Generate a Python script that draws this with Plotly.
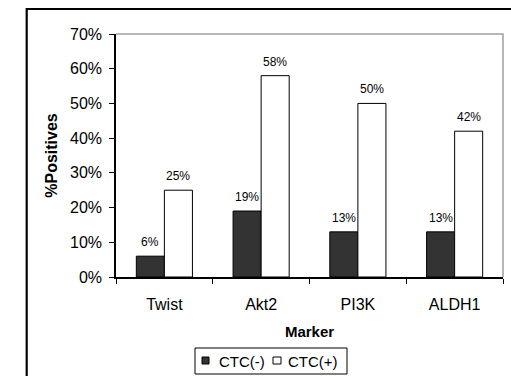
import plotly.graph_objects as go

# Marker positivity by CTC status
markers = ["Twist", "Akt2", "PI3K", "ALDH1"]
series_names = ["CTC(-)", "CTC(+)"]
ctc_neg = [0.06, 0.19, 0.13, 0.13]
ctc_pos = [0.25, 0.58, 0.50, 0.42]
y_ticks = [0, 0.1, 0.2, 0.3, 0.4, 0.5, 0.6, 0.7]

FONT = "Liberation Sans, Arial, sans-serif"
W, H = 511, 376
ML, MR, MT, MB = 116, 8, 34, 99
PW, PH = W - ML - MR, H - MT - MB
BARGAP = 0.42
bar_px = PW / len(markers) * (1 - BARGAP) / 2


def px_x(x):
    return (x - ML) / PW


def px_y(y):
    return (H - MB - y) / PH


colors = ["#333333", "white"]
fig = go.Figure()
for name, vals, col in zip(series_names, [ctc_neg, ctc_pos], colors):
    fig.add_trace(go.Bar(
        name=name, x=markers, y=vals,
        marker=dict(color=col, line=dict(color="black", width=1)),
        showlegend=False,
    ))

# value labels above each bar
annotations = []
for k, vals in enumerate([ctc_neg, ctc_pos]):
    shift = (k - 0.5) * bar_px
    for m, v in zip(markers, vals):
        annotations.append(dict(
            x=m, y=v, xref="x", yref="y", text=f"{v:.0%}", showarrow=False,
            xanchor="center", yanchor="bottom", xshift=shift, yshift=5,
            font=dict(size=12, color="black", family=FONT),
        ))

# legend box below the axis title
leg_x0, leg_x1, leg_y0, leg_y1 = 195, 347, 348, 374
sq = [(202, 209), (273, 281)]
txt_x = [217, 286]
shapes = [
    # grey frame on the top and right of the plot area
    dict(type="path", xref="paper", yref="paper",
         path="M 0,1 L 1,1 L 1,0", line=dict(color="#a0a0a0", width=1.5)),
    # outer chart frame
    dict(type="path", xref="paper", yref="paper",
         path=f"M {px_x(26.7)},-0.5 L {px_x(26.7)},{px_y(9)} L 1.2,{px_y(9)}",
         line=dict(color="black", width=2.2)),
    dict(type="rect", xref="paper", yref="paper",
         x0=px_x(leg_x0), x1=px_x(leg_x1), y0=px_y(leg_y1), y1=px_y(leg_y0),
         line=dict(color="black", width=1), fillcolor="white"),
]
for (a, b), col, tx, name in zip(sq, colors, txt_x, series_names):
    shapes.append(dict(type="rect", xref="paper", yref="paper",
                       x0=px_x(a), x1=px_x(b), y0=px_y(364), y1=px_y(357),
                       line=dict(color="black", width=1), fillcolor=col))
    annotations.append(dict(
        x=px_x(tx), y=px_y(361), xref="paper", yref="paper", text=name,
        showarrow=False, xanchor="left", yanchor="middle",
        font=dict(size=15, color="black", family=FONT),
    ))

fig.update_layout(
    width=W, height=H,
    margin=dict(l=ML, r=MR, t=MT, b=MB),
    paper_bgcolor="white", plot_bgcolor="white",
    barmode="group", bargap=BARGAP, bargroupgap=0,
    font=dict(family=FONT, size=15, color="black"),
    showlegend=False,
    shapes=shapes, annotations=annotations,
)

fig.update_xaxes(
    title=dict(text="<b>Marker</b>", font=dict(size=15), standoff=15),
    showline=True, linecolor="black", linewidth=1.5,
    ticks="outside", tickson="boundaries", ticklen=5, tickcolor="black",
    tickwidth=1.2, tickfont=dict(size=16), ticklabelstandoff=12,
    showgrid=False,
)
fig.update_yaxes(
    title=dict(text="<b>%Positives</b>", font=dict(size=16), standoff=8),
    range=[0, 0.7], tickvals=y_ticks, tickformat=".0%",
    showline=True, linecolor="black", linewidth=1.5,
    ticks="outside", ticklen=5, tickcolor="black", tickwidth=1.2,
    tickfont=dict(size=16), ticklabelstandoff=4,
    showgrid=False, zeroline=False,
)

fig.write_html("out.html")
